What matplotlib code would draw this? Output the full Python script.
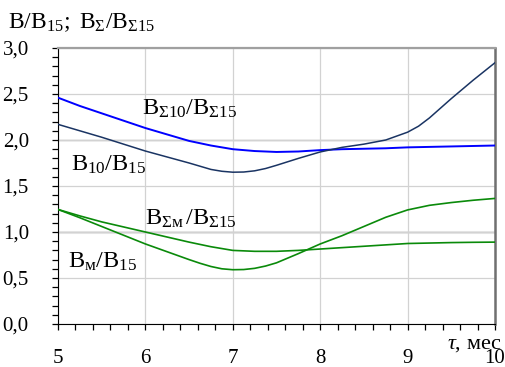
import matplotlib
matplotlib.use("Agg")
import matplotlib.pyplot as plt
from matplotlib.ticker import MultipleLocator, FuncFormatter

# months, coarse grid for the flat curves
tau = [5.0, 5.25, 5.5, 5.75, 6.0, 6.25, 6.5, 6.75, 7.0, 7.25, 7.5, 7.75,
       8.0, 8.25, 8.5, 8.75, 9.0, 9.25, 9.5, 9.75, 10.0]
# denser near the minima
tau_10 = [5.0, 5.5, 6.0, 6.25, 6.5, 6.625, 6.75, 6.875, 7.0, 7.125, 7.25, 7.375,
          7.5, 7.75, 8.0, 8.25, 8.5, 8.75, 9.0, 9.125, 9.25, 9.5, 9.75, 10.0]
tau_m = [5.0, 5.25, 5.5, 6.0, 6.25, 6.5, 6.625, 6.75, 6.875, 7.0, 7.125, 7.25, 7.375,
         7.5, 7.75, 8.0, 8.25, 8.5, 8.75, 9.0, 9.25, 9.5, 9.75, 10.0]

# B_sum10 / B_sum15  (blue)
b_s10 = [2.46, 2.37, 2.29, 2.21, 2.13, 2.06, 1.99, 1.94, 1.90, 1.88, 1.87, 1.875,
         1.89, 1.90, 1.905, 1.91, 1.92, 1.925, 1.93, 1.935, 1.94]
# B10 / B15  (navy)
b_10 = [2.17, 2.03, 1.88, 1.815, 1.75, 1.715, 1.68, 1.66, 1.65, 1.652, 1.665, 1.69,
        1.725, 1.80, 1.87, 1.92, 1.955, 2.00, 2.085, 2.15, 2.24, 2.45, 2.65, 2.84]
# B_sum_m / B_sum15  (green, flat one)
b_sm = [1.245, 1.175, 1.11, 1.055, 1.00, 0.945, 0.89, 0.84, 0.80, 0.79, 0.79, 0.80,
        0.815, 0.83, 0.845, 0.86, 0.875, 0.88, 0.885, 0.888, 0.89]
# B_m / B15  (green, dipping one)
b_m = [1.245, 1.155, 1.06, 0.87, 0.785, 0.70, 0.66, 0.625, 0.60, 0.59, 0.592, 0.605,
       0.63, 0.665, 0.765, 0.87, 0.96, 1.06, 1.16, 1.24, 1.29, 1.32, 1.345, 1.365]

plt.rcParams['font.family'] = ['Liberation Serif', 'DejaVu Serif']
plt.rcParams['mathtext.fontset'] = 'custom'
plt.rcParams['mathtext.rm'] = 'Liberation Serif'
plt.rcParams['mathtext.it'] = 'Liberation Serif:italic'
plt.rcParams['mathtext.bf'] = 'Liberation Serif:bold'

fig = plt.figure(figsize=(5.05, 3.67), dpi=100)
ax = fig.add_axes([58 / 505, 1 - 324 / 367, 437 / 505, 276 / 367])

ax.plot(tau, b_s10, color='#0000ff', lw=1.4, zorder=3)
ax.plot(tau_10, b_10, color='#1a3463', lw=1.1, zorder=3)
ax.plot(tau, b_sm, color='#0a8a0a', lw=1.2, zorder=3)
ax.plot(tau_m, b_m, color='#0a8a0a', lw=1.2, zorder=3)

ax.set_xlim(5, 10)
ax.set_ylim(0, 3)
ax.xaxis.set_major_locator(MultipleLocator(1))
ax.xaxis.set_minor_locator(MultipleLocator(0.2))
ax.yaxis.set_major_locator(MultipleLocator(0.5))
ax.yaxis.set_minor_locator(MultipleLocator(0.1))
ax.yaxis.set_major_formatter(FuncFormatter(lambda v, p: f"{v:.1f}".replace('.', ',')))
ax.xaxis.set_major_formatter(FuncFormatter(lambda v, p: f"{v:.0f}"))

ax.grid(True, which='major', color='#d2d2d2', lw=0.9, zorder=0)
ax.axhline(1.0, color='#e6e6e6', lw=2.2, zorder=1)
ax.axhline(2.0, color='#aaaaaa', lw=1.0, zorder=1)

ax.tick_params(which='both', direction='out', top=False, right=False,
               labelsize=15, colors='black')
ax.tick_params(which='major', length=4, width=0.9)
ax.tick_params(which='minor', length=4, width=0.9)
ax.tick_params(axis='y', which='major', pad=17)
ax.tick_params(axis='x', which='major', pad=14)

ax.spines['left'].set_color('black')
ax.spines['bottom'].set_color('black')
ax.spines['top'].set_color('#a0a0a0')
ax.spines['top'].set_linewidth(1.6)
ax.spines['right'].set_color('#707070')
ax.spines['right'].set_linewidth(1.8)

# curve labels
ax.text(5.96, 2.27, r'$\mathrm{B}_{\Sigma10}/\mathrm{B}_{\Sigma15}$', fontsize=17.5)
ax.text(5.15, 1.67, r'$\mathrm{B}_{10}/\mathrm{B}_{15}$', fontsize=17.5)
ax.text(6.0, 1.08, r'$\mathrm{B}_{\Sigma\mathrm{м}}\,/\mathrm{B}_{\Sigma15}$', fontsize=17.5)
ax.text(5.11, 0.61, r'$\mathrm{B}_{\mathrm{м}}/\mathrm{B}_{15}$', fontsize=17.5)

# axis captions
fig.text(8 / 505, 1 - 28 / 367, r'$\mathrm{B}/\mathrm{B}_{15};\ \mathrm{B}_{\Sigma}/\mathrm{B}_{\Sigma15}$',
         fontsize=17, ha='left', va='baseline')
fig.text(447 / 505, 1 - 349 / 367, r'$\tau$, мес', fontsize=16, ha='left', va='baseline')

fig.savefig('out.png', dpi=100)
